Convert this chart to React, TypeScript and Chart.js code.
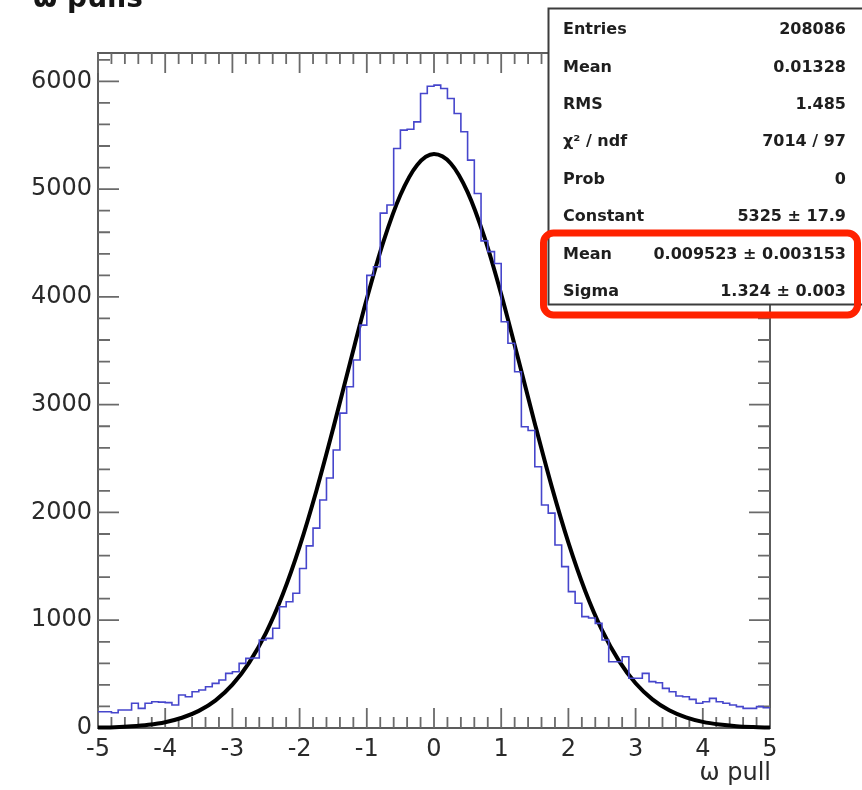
import React, { useEffect, useRef } from "react";
import { Chart, registerables } from "chart.js";

Chart.register(...registerables);

// ---- data ----
const X_MIN = -5;
const X_MAX = 5;
const BIN_WIDTH = 0.1;
const Y_MAX = 6263;

// histogram contents, 100 bins from -5 to 5
const COUNTS = [
  151, 151, 142, 167, 167, 229, 182, 229, 244, 240,
  235, 213, 306, 290, 337, 352, 383, 414, 445, 507,
  522, 600, 646, 650, 816, 832, 925, 1125, 1172, 1250,
  1480, 1690, 1855, 2115, 2319, 2579, 2922, 3166, 3414, 3738,
  4200, 4280, 4777, 4852, 5377, 5547, 5555, 5624, 5887, 5955,
  5965, 5934, 5841, 5702, 5532, 5269, 4960, 4520, 4420, 4310,
  3769, 3570, 3305, 2795, 2760, 2424, 2069, 1994, 1698, 1497,
  1265, 1157, 1033, 1020, 971, 816, 615, 615, 661, 461,
  461, 507, 430, 420, 368, 337, 297, 290, 266, 229,
  244, 275, 244, 229, 213, 198, 182, 182, 198, 188,
];

// gaussian fit curve samples
const FIT_X = [
  -5, -4.75, -4.5, -4.25, -4, -3.75, -3.5, -3.25, -3, -2.75, -2.5, -2.25, -2, -1.75,
  -1.5, -1.25, -1, -0.75, -0.5, -0.25, 0, 0.25, 0.5, 0.75, 1, 1.25, 1.5, 1.75, 2,
  2.25, 2.5, 2.75, 3, 3.25, 3.5, 3.75, 4, 4.25, 4.5, 4.75, 5,
];
const FIT_Y = [
  4, 8, 16, 30, 54, 95, 159, 257, 402, 607, 883, 1241, 1683, 2202, 2780, 3387, 3982,
  4517, 4945, 5224, 5325, 5238, 4972, 4554, 4025, 3433, 2826, 2244, 1720, 1272, 908,
  625, 415, 266, 165, 99, 57, 32, 17, 9, 4,
];

const X_TICKS = [-5, -4, -3, -2, -1, 0, 1, 2, 3, 4, 5];
const Y_TICKS = [0, 1000, 2000, 3000, 4000, 5000, 6000];
const X_MINOR_STEP = 0.2;
const Y_MINOR_STEP = 200;

const TITLE = "ω pulls";
const X_TITLE = "ω pull";
const STATS_LABELS = ["Entries", "Mean", "RMS", "χ² / ndf", "Prob", "Constant", "Mean", "Sigma"];
const STATS_VALUES = [
  "208086",
  "0.01328",
  "1.485",
  "7014 / 97",
  "0",
  "5325 ± 17.9",
  "0.009523 ± 0.003153",
  "1.324 ± 0.003",
];

const FONT = '"DejaVu Sans", "Liberation Sans", Arial, sans-serif';

const decorPlugin = {
  id: "rootDecor",
  beforeDraw(chart: any) {
    const { ctx, width, height } = chart;
    ctx.save();
    ctx.fillStyle = "#ffffff";
    ctx.fillRect(0, 0, width, height);
    ctx.restore();
  },
  beforeDatasetsDraw(chart: any) {
    const { ctx, chartArea: a, scales } = chart;
    const xs = scales.x;
    const ys = scales.y;
    ctx.save();
    ctx.strokeStyle = "#5c5c5c";
    ctx.lineWidth = 2;
    ctx.strokeRect(a.left, a.top, a.right - a.left, a.bottom - a.top);
    ctx.lineWidth = 1.8;
    ctx.strokeStyle = "#6a6a6a";
    ctx.beginPath();
    const nx = Math.round((X_MAX - X_MIN) / X_MINOR_STEP);
    for (let k = 0; k <= nx; k++) {
      const v = X_MIN + k * X_MINOR_STEP;
      const major = X_TICKS.some((t) => Math.abs(t - v) < 1e-6);
      const len = major ? 20 : 11;
      const px = xs.getPixelForValue(v);
      ctx.moveTo(px, a.bottom);
      ctx.lineTo(px, a.bottom - len);
      ctx.moveTo(px, a.top);
      ctx.lineTo(px, a.top + len);
    }
    for (let v = 0; v <= Y_MAX; v += Y_MINOR_STEP) {
      const major = Y_TICKS.includes(v);
      const len = major ? 21 : 12;
      const py = ys.getPixelForValue(v);
      ctx.moveTo(a.left, py);
      ctx.lineTo(a.left + len, py);
      ctx.moveTo(a.right, py);
      ctx.lineTo(a.right - len, py);
    }
    ctx.stroke();
    ctx.restore();
  },
  afterDatasetsDraw(chart: any) {
    const { ctx, chartArea: a } = chart;
    ctx.save();
    // stats box
    const bx = 548.5;
    const by = 8.5;
    const bw = 340;
    const bh = 296;
    ctx.fillStyle = "#ffffff";
    ctx.fillRect(bx, by, bw, bh);
    ctx.strokeStyle = "#3c3c3c";
    ctx.lineWidth = 2;
    ctx.strokeRect(bx, by, bw, bh);
    ctx.fillStyle = "#1e1e1e";
    ctx.font = `bold 16px ${FONT}`;
    ctx.textBaseline = "middle";
    STATS_LABELS.forEach((lab, i) => {
      const ty = 30 + i * 37.4;
      ctx.textAlign = "left";
      ctx.fillText(lab, 563, ty);
      ctx.textAlign = "right";
      ctx.fillText(STATS_VALUES[i], 846, ty);
    });
    // red highlight
    ctx.strokeStyle = "#ff2200";
    ctx.lineWidth = 7;
    ctx.lineJoin = "round";
    ctx.beginPath();
    if ((ctx as any).roundRect) {
      (ctx as any).roundRect(543.5, 233, 314, 82, 10);
    } else {
      ctx.rect(543.5, 233, 314, 82);
    }
    ctx.stroke();
    // title
    ctx.fillStyle = "#151515";
    ctx.font = `bold 28px ${FONT}`;
    ctx.textAlign = "left";
    ctx.textBaseline = "alphabetic";
    ctx.fillText(TITLE, 33, 7);
    // x axis title
    ctx.font = `24px ${FONT}`;
    ctx.fillStyle = "#2a2a2a";
    ctx.textAlign = "right";
    ctx.fillText(X_TITLE, a.right + 1, 780);
    ctx.restore();
  },
};

export default function App() {
  const canvasRef = useRef<HTMLCanvasElement | null>(null);

  useEffect(() => {
    const canvas = canvasRef.current;
    if (!canvas) return;

    const histPoints = COUNTS.map((v, i) => ({ x: X_MIN + i * BIN_WIDTH, y: v }));
    histPoints.push({ x: X_MAX, y: COUNTS[COUNTS.length - 1] });
    const fitPoints = FIT_X.map((x, i) => ({ x, y: FIT_Y[i] }));

    const tickFont = { family: FONT, size: 24 };

    const chart = new Chart(canvas, {
      type: "line",
      data: {
        datasets: [
          {
            label: "hist",
            data: histPoints,
            stepped: "before",
            borderColor: "#4646cc",
            borderWidth: 1.6,
            pointRadius: 0,
            fill: false,
          },
          {
            label: "fit",
            data: fitPoints,
            borderColor: "#000000",
            borderWidth: 4,
            pointRadius: 0,
            fill: false,
            cubicInterpolationMode: "monotone",
            clip: 6,
          } as any,
        ],
      },
      options: {
        responsive: false,
        animation: false,
        events: [],
        layout: { padding: { top: 53, right: 92, left: 0, bottom: 0 } },
        plugins: {
          legend: { display: false },
          tooltip: { enabled: false },
          title: { display: false },
        },
        scales: {
          x: {
            type: "linear",
            min: X_MIN,
            max: X_MAX,
            grid: { display: false },
            border: { display: false },
            afterBuildTicks: (scale: any) => {
              scale.ticks = X_TICKS.map((v) => ({ value: v }));
            },
            afterFit: (scale: any) => {
              scale.height = 62;
            },
            ticks: {
              autoSkip: false,
              maxRotation: 0,
              padding: -1,
              color: "#2a2a2a",
              font: tickFont,
              callback: (v: any) => String(v),
            },
          },
          y: {
            type: "linear",
            min: 0,
            max: Y_MAX,
            grid: { display: false },
            border: { display: false },
            afterBuildTicks: (scale: any) => {
              scale.ticks = Y_TICKS.map((v) => ({ value: v }));
            },
            afterFit: (scale: any) => {
              scale.width = 98;
            },
            ticks: {
              autoSkip: false,
              padding: -2,
              color: "#2a2a2a",
              font: tickFont,
              callback: (v: any) => String(v),
            },
          },
        },
      },
      plugins: [decorPlugin],
    });

    return () => chart.destroy();
  }, []);

  return (
    <div style={{ position: "absolute", left: 0, top: 0, width: 862, height: 790, background: "#fff" }}>
      <canvas ref={canvasRef} width={862} height={790} style={{ display: "block" }} />
    </div>
  );
}
